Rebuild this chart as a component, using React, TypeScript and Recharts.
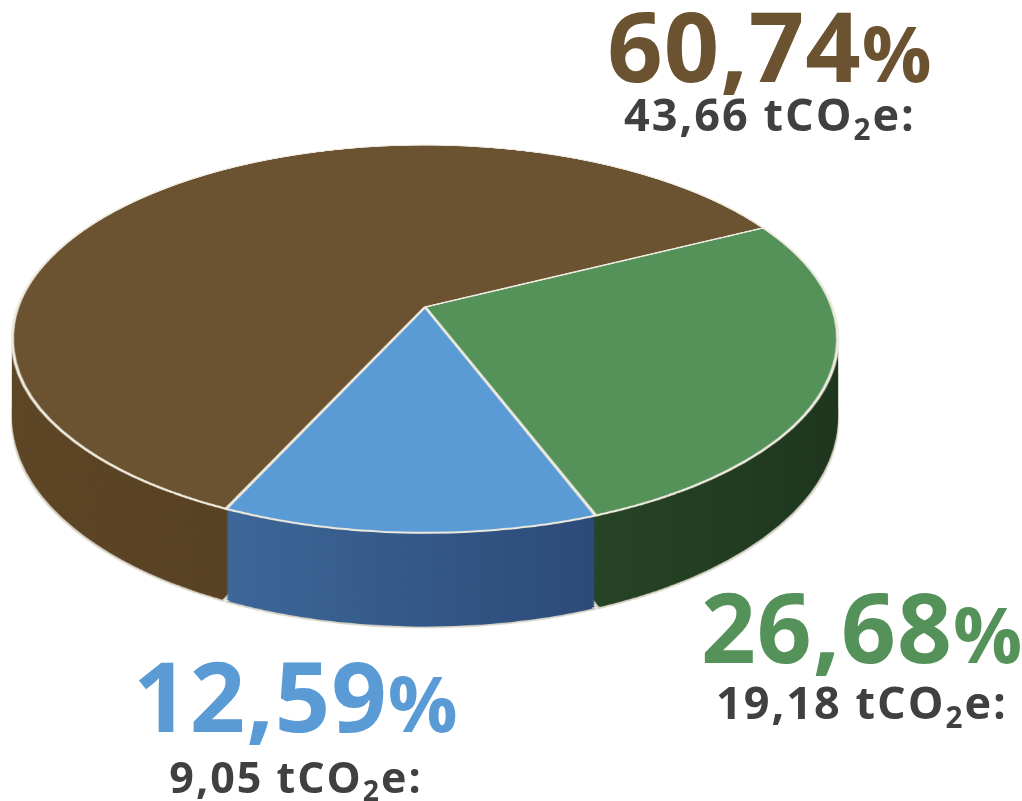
import React from 'react';
import { PieChart, Pie, Cell } from 'recharts';

// shares of total emissions (%), same order as the slices go clockwise from the back-right
const sliceKeys = ['verde', 'azul', 'marron'];
const sharePercent = [26.68, 12.59, 60.74];
const emissionsT = [19.18, 9.05, 43.66];

const topColors = ['#54925a', '#5b9bd5', '#6b5230'];
const sideColors = ['url(#sideGreen)', 'url(#sideBlue)', 'url(#sideBrown)'];

const pieData = sliceKeys.map((k, i) => ({ name: k, value: sharePercent[i] }));

const R = 407;
const W = 834;
const PERSPECTIVE = 2184;
const TILT = 62.4;
const DEPTH = 79;
const LAYERS = 40;
const APEX_X = 425;
const APEX_Y = 307;
const START = 26.8;

const fmt = (v: number) => v.toFixed(2).replace('.', ',');

const FONT = '"Open Sans", "DejaVu Sans", sans-serif';

function Disc({ fills, offset, stroke, strokeWidth, pad, withDefs }: any) {
  return (
    <div
      style={{
        position: 'absolute',
        left: APEX_X - W / 2,
        top: APEX_Y - W / 2,
        width: W,
        height: W,
        transform: `perspective(${PERSPECTIVE}px) translateY(${offset}px) rotateX(${TILT}deg)`,
      }}
    >
      <PieChart width={W} height={W} margin={{ top: 0, right: 0, bottom: 0, left: 0 }}>
        {withDefs && (
          <defs>
            <linearGradient id="sideBlue" x1="0" y1="0" x2="1" y2="0">
              <stop offset="0%" stopColor="#3c6798" />
              <stop offset="100%" stopColor="#2c4a78" />
            </linearGradient>
            <linearGradient id="sideGreen" x1="0" y1="0" x2="1" y2="0">
              <stop offset="0%" stopColor="#2b4c2a" />
              <stop offset="100%" stopColor="#1c341b" />
            </linearGradient>
            <linearGradient id="sideBrown" x1="0" y1="0" x2="1" y2="0">
              <stop offset="0%" stopColor="#5d4525" />
              <stop offset="100%" stopColor="#4e3a1e" />
            </linearGradient>
          </defs>
        )}
        <Pie
          data={pieData}
          dataKey="value"
          cx="50%"
          cy="50%"
          innerRadius={0}
          outerRadius={R}
          startAngle={START}
          endAngle={START - 360}
          paddingAngle={pad}
          stroke={stroke}
          strokeWidth={strokeWidth}
          isAnimationActive={false}
        >
          {pieData.map((d, i) => (
            <Cell key={d.name} fill={fills[i]} stroke={stroke} strokeWidth={strokeWidth} />
          ))}
        </Pie>
      </PieChart>
    </div>
  );
}

function Label({ cx, top1, fs1, top2, fs2, color, pct, amount }: any) {
  return (
    <>
      <div
        style={{
          position: 'absolute',
          left: cx - 250,
          width: 500,
          top: top1 - 0.074 * fs1,
          textAlign: 'center',
          fontFamily: FONT,
          fontWeight: 700,
          fontSize: fs1,
          lineHeight: 0.8,
          color,
          letterSpacing: 1,
          whiteSpace: 'nowrap',
        }}
      >
        {pct}
        <span style={{ fontSize: fs1 * 0.8 }}>%</span>
      </div>
      <div
        style={{
          position: 'absolute',
          left: cx - 250,
          width: 500,
          top: top2 - 0.124 * fs2,
          textAlign: 'center',
          fontFamily: FONT,
          fontWeight: 700,
          fontSize: fs2,
          lineHeight: 0.9,
          color: '#404040',
          letterSpacing: 2,
          whiteSpace: 'nowrap',
        }}
      >
        {amount} tCO
        <span style={{ fontSize: fs2 * 0.66, position: 'relative', top: fs2 * 0.2 }}>2</span>e:
      </div>
    </>
  );
}

export default function App() {
  const layers = [];
  for (let i = LAYERS; i >= 1; i--) {
    const last = i === LAYERS;
    layers.push(
      <Disc
        key={i}
        fills={sideColors}
        offset={(DEPTH * i) / LAYERS}
        stroke={last ? '#d9d5c9' : 'none'}
        strokeWidth={last ? 2.5 : 0}
        pad={0.5}
        withDefs={last}
      />
    );
  }
  return (
    <div
      style={{
        position: 'absolute',
        left: 0,
        top: 0,
        width: 1022,
        height: 801,
        overflow: 'hidden',
        background: '#ffffff',
      }}
    >
      {layers}
      <Disc fills={topColors} offset={0} stroke="#eeeadf" strokeWidth={3} pad={0} withDefs={false} />
      <Label cx={770} top1={13} fs1={97} top2={100} fs2={45} color={topColors[2]} pct={fmt(sharePercent[2])} amount={fmt(emissionsT[2])} />
      <Label cx={862} top1={595} fs1={96} top2={688} fs2={45} color={topColors[0]} pct={fmt(sharePercent[0])} amount={fmt(emissionsT[0])} />
      <Label cx={296} top1={663} fs1={97} top2={763} fs2={43} color={topColors[1]} pct={fmt(sharePercent[1])} amount={fmt(emissionsT[1])} />
    </div>
  );
}
